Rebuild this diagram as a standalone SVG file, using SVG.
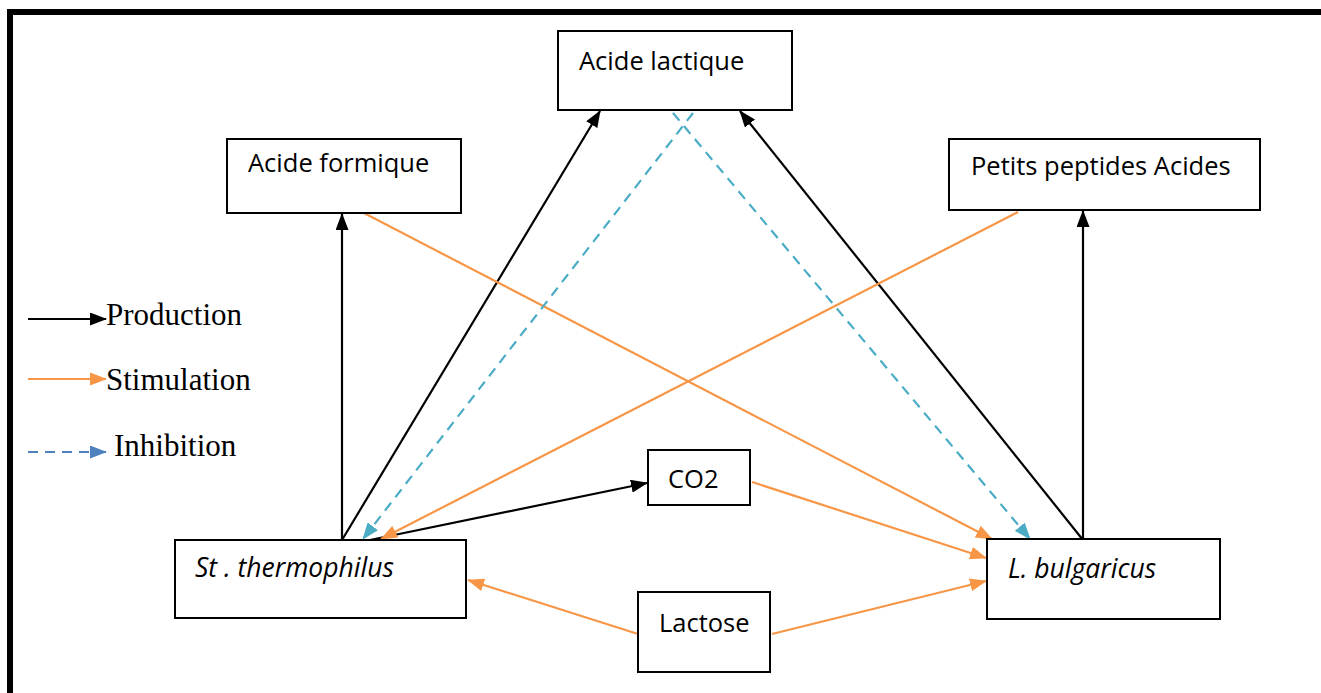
<svg xmlns="http://www.w3.org/2000/svg" width="1321" height="693" viewBox="0 0 1321 693">
<style>
.box{fill:#fff;stroke:#000;stroke-width:2}
.t{font-family:"Open Sans","Liberation Sans",sans-serif;font-size:25.5px;fill:#000}
.it{font-style:italic;font-size:26.5px}
.leg{font-family:"Liberation Serif",serif;font-size:31px;fill:#000}
.prod{stroke:#000;stroke-width:2.2;fill:none}
.stim{stroke:#F79646;stroke-width:2.2;fill:none}
.inh{stroke:#4BACC6;stroke-width:2.2;fill:none;stroke-dasharray:10 7}
.inhl{stroke:#4F81BD;stroke-width:2.2;fill:none;stroke-dasharray:10 7}
</style>
<defs>
<marker id="mb" markerUnits="userSpaceOnUse" markerWidth="17" markerHeight="13" refX="16" refY="6.5" orient="auto"><path d="M0,0 L17,6.5 L0,13 z" fill="#000"/></marker>
<marker id="mo" markerUnits="userSpaceOnUse" markerWidth="17" markerHeight="13" refX="16" refY="6.5" orient="auto"><path d="M0,0 L17,6.5 L0,13 z" fill="#F79646"/></marker>
<marker id="mt" markerUnits="userSpaceOnUse" markerWidth="17" markerHeight="13" refX="16" refY="6.5" orient="auto"><path d="M0,0 L17,6.5 L0,13 z" fill="#4BACC6"/></marker>
<marker id="ml" markerUnits="userSpaceOnUse" markerWidth="17" markerHeight="13" refX="16" refY="6.5" orient="auto"><path d="M0,0 L17,6.5 L0,13 z" fill="#4F81BD"/></marker>
</defs>
<rect width="1321" height="693" fill="#fff"/>
<path d="M10,693 V12 H1321" fill="none" stroke="#000" stroke-width="6"/>

<g id="connectors">
<line class="prod" x1="342" y1="540" x2="342" y2="214" marker-end="url(#mb)"/>
<line class="prod" x1="342" y1="540" x2="600" y2="111" marker-end="url(#mb)"/>
<line class="prod" x1="370" y1="540" x2="647" y2="483" marker-end="url(#mb)"/>
<line class="prod" x1="1083" y1="540" x2="740" y2="111" marker-end="url(#mb)"/>
<line class="prod" x1="1083" y1="540" x2="1083" y2="211" marker-end="url(#mb)"/>
<line class="stim" x1="362" y1="212" x2="992" y2="539" marker-end="url(#mo)"/>
<line class="stim" x1="1018" y1="212" x2="381" y2="539" marker-end="url(#mo)"/>
<line class="stim" x1="752" y1="482" x2="986" y2="558" marker-end="url(#mo)"/>
<line class="stim" x1="638" y1="634" x2="468" y2="580" marker-end="url(#mo)"/>
<line class="stim" x1="772" y1="634" x2="986" y2="581" marker-end="url(#mo)"/>
<line class="inh" x1="693" y1="113" x2="363" y2="539" marker-end="url(#mt)"/>
<line class="inh" x1="673" y1="113" x2="1030" y2="539" marker-end="url(#mt)"/>
</g>

<g id="legend">
<line class="prod" x1="28" y1="319" x2="106" y2="319" marker-end="url(#mb)"/>
<text class="leg" x="106" y="325">Production</text>
<line class="stim" x1="28" y1="379" x2="106" y2="379" marker-end="url(#mo)"/>
<text class="leg" x="106" y="390">Stimulation</text>
<line class="inhl" x1="28" y1="452" x2="106" y2="452" marker-end="url(#ml)"/>
<text class="leg" x="114" y="456">Inhibition</text>
</g>

<g id="acide-lactique"><rect class="box" x="558" y="31" width="234" height="79"/><text class="t" x="579" y="70">Acide lactique</text></g>
<g id="acide-formique"><rect class="box" x="227" y="139" width="234" height="74"/><text class="t" x="248" y="172">Acide formique</text></g>
<g id="petits-peptides"><rect class="box" x="949" y="139" width="311" height="71"/><text class="t" x="971" y="175">Petits peptides Acides</text></g>
<g id="co2"><rect class="box" x="648" y="450" width="102" height="55"/><text class="t" x="668" y="488">CO2</text></g>
<g id="st-thermophilus"><rect class="box" x="175" y="540" width="291" height="78"/><text class="t it" x="195" y="577">St . thermophilus</text></g>
<g id="l-bulgaricus"><rect class="box" x="987" y="539" width="233" height="80"/><text class="t it" x="1008" y="578">L. bulgaricus</text></g>
<g id="lactose"><rect class="box" x="638" y="592" width="132" height="80"/><text class="t" x="659" y="632">Lactose</text></g>
</svg>
